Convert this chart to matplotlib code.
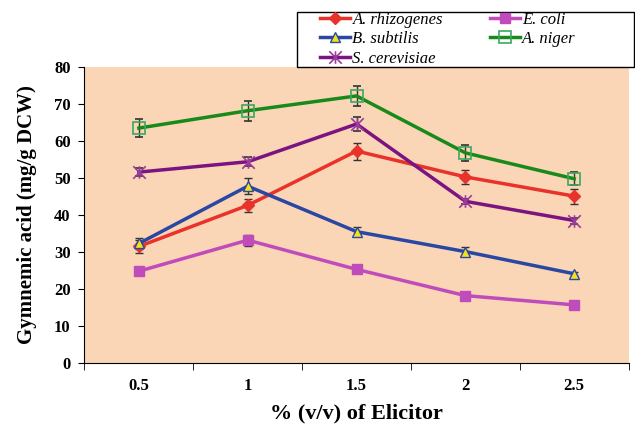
import numpy as np
import matplotlib.pyplot as plt
from matplotlib.path import Path
from matplotlib.lines import Line2D
from matplotlib.patches import Rectangle

# data
conc = ['0.5', '1', '1.5', '2', '2.5']
rhizogenes = [31.5, 42.6, 57.3, 50.3, 45.1]
rhizogenes_err = [1.8, 1.8, 2.3, 2.0, 2.0]
coli = [24.8, 33.2, 25.3, 18.2, 15.7]
coli_err = [1.0, 1.5, 1.0, 0.5, 0.5]
subtilis = [32.3, 47.8, 35.5, 30.1, 24.1]
subtilis_err = [1.5, 2.2, 1.3, 1.3, 0.5]
niger = [63.5, 68.2, 72.2, 56.8, 49.8]
niger_err = [2.5, 2.7, 2.8, 2.2, 1.8]
cerevisiae = [51.6, 54.4, 64.6, 43.7, 38.5]
cerevisiae_err = [1.0, 1.2, 1.9, 0.7, 0.8]

star = Path([(-1, -1), (1, 1), (-1, 1), (1, -1), (0, -1), (0, 1)],
            [Path.MOVETO, Path.LINETO, Path.MOVETO, Path.LINETO, Path.MOVETO, Path.LINETO])

plt.rcParams['font.family'] = 'Liberation Serif'

fig = plt.figure(figsize=(6.35, 4.3), dpi=100)
ax = fig.add_axes([0.133, 0.156, 0.857, 0.688])
ax.set_facecolor('#FAD5B6')

x = np.arange(len(conc))
series = [
    ('A. rhizogenes', rhizogenes, rhizogenes_err, dict(color='#E8322A', marker='D', ms=6, mfc='#E8322A', mec='#E8322A')),
    ('E. coli', coli, coli_err, dict(color='#C04CBC', marker='s', ms=7, mfc='#C04CBC', mec='#C04CBC')),
    ('B. subtilis', subtilis, subtilis_err, dict(color='#2A47A4', marker='^', ms=7, mfc='#F2E21A', mec='#2A47A4')),
    ('A. niger', niger, niger_err, dict(color='#178A1A', marker='s', ms=9, mfc='none', mec='#3CA860', mew=1.2)),
    ('S. cerevisiae', cerevisiae, cerevisiae_err, dict(color='#7B1480', marker=star, ms=9, mfc='none', mec='#9A3C9E', mew=1.2)),
]
handles = {}
for name, vals, err, st in series:
    ax.errorbar(x, vals, yerr=err, ecolor='#333333', elinewidth=1, capsize=3, capthick=1,
                lw=2.5, zorder=3, **st)
    handles[name] = Line2D([], [], lw=2.5, **st)

ax.set_xlim(-0.5, 4.5)
ax.set_ylim(0, 80)
ax.set_yticks(range(0, 81, 10))
ax.set_xticks(x)
ax.set_xticklabels(conc)
ax.set_xticks(np.arange(-0.5, 4.6, 1), minor=True)
ax.tick_params(axis='x', which='major', length=0, pad=11)
ax.tick_params(axis='x', which='minor', length=5, direction='out')
ax.tick_params(axis='y', length=4, direction='out', pad=6)
for lab in ax.get_xticklabels() + ax.get_yticklabels():
    lab.set_fontweight('bold')
    lab.set_fontsize(12)
ax.spines['top'].set_visible(False)
ax.spines['right'].set_visible(False)

ax.set_ylabel('Gymnemic acid (mg/g DCW)', fontsize=15, fontweight='bold', labelpad=12)
ax.set_xlabel('% (v/v) of Elicitor', fontsize=16, fontweight='bold', labelpad=6.5)

order = ['A. rhizogenes', 'B. subtilis', 'S. cerevisiae', 'E. coli', 'A. niger']
fig.legend([handles[n] for n in order], order, ncol=2,
           loc='upper left', bbox_to_anchor=(320 / 635, 1 - 12 / 430),
           prop={'style': 'italic', 'size': 12}, frameon=False,
           handlelength=1.8, handletextpad=0.15, labelspacing=0.2,
           borderpad=0, borderaxespad=0, columnspacing=2.8)
fig.patches.append(Rectangle((297 / 635, 1 - 67 / 430), 337 / 635, 55 / 430,
                             transform=fig.transFigure, fill=False, edgecolor='black', lw=1))

fig.savefig('out.png', dpi=100)
